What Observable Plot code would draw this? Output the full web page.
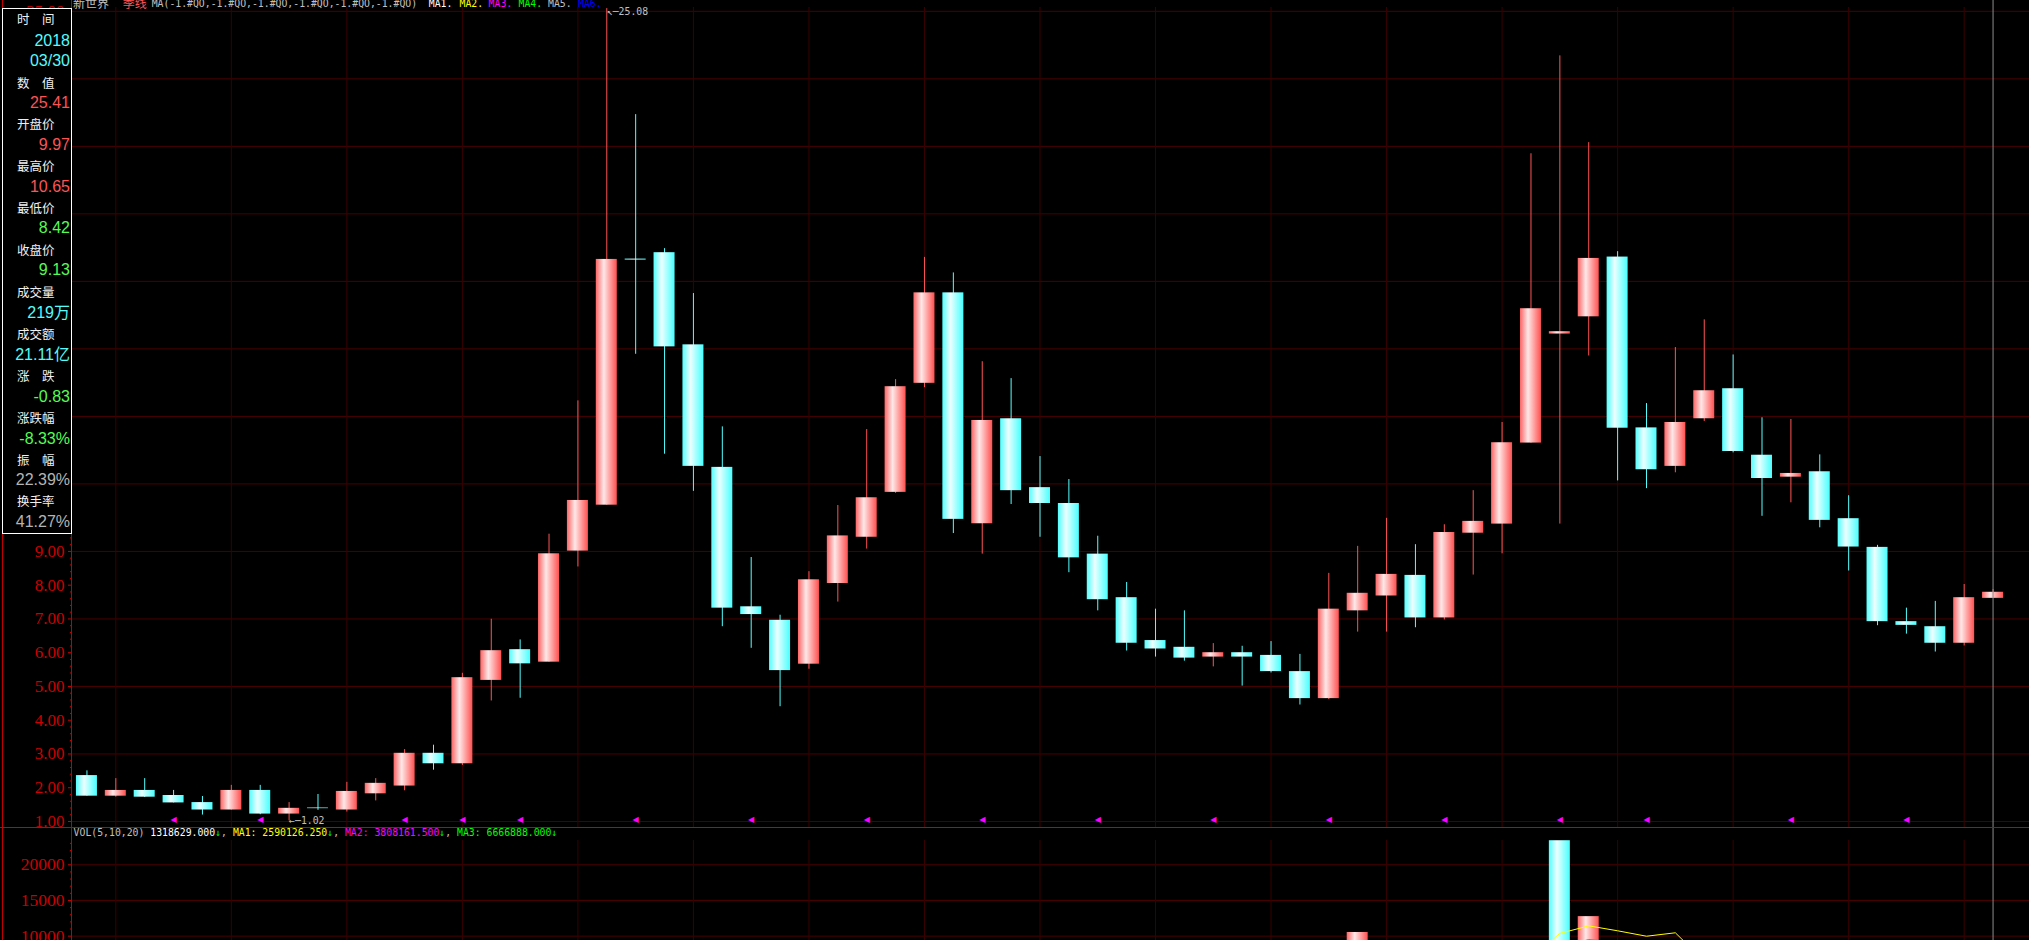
<!DOCTYPE html>
<html><head><meta charset="utf-8">
<script src="https://cdn.jsdelivr.net/npm/d3@7"></script>
<script src="https://cdn.jsdelivr.net/npm/@observablehq/plot@0.6"></script>
<style>
html,body{margin:0;padding:0;background:#000;overflow:hidden;}
#root{position:relative;width:2029px;height:940px;overflow:hidden;background:#000;}
.abs{position:absolute;white-space:pre;}
.lbl{position:absolute;left:17px;font:12.5px/18px "Noto Sans CJK SC",sans-serif;color:#f0f0f0;white-space:pre;}
.val{position:absolute;left:0;width:70px;text-align:right;font:16px/18px "Liberation Sans","Noto Sans CJK SC",sans-serif;white-space:pre;}
.mono{font-family:"DejaVu Sans Mono",monospace;font-size:9.8px;line-height:12px;}
</style></head><body>
<svg width="0" height="0" style="position:absolute">
  <defs>
    <linearGradient id="gUp" x1="0" x2="1" y1="0" y2="0">
      <stop offset="0" stop-color="#ff6464"/>
      <stop offset="0.38" stop-color="#ffe8e8"/>
      <stop offset="1" stop-color="#ff5050"/>
    </linearGradient>
    <linearGradient id="gDn" x1="0" x2="1" y1="0" y2="0">
      <stop offset="0" stop-color="#50ffff"/>
      <stop offset="0.38" stop-color="#ecffff"/>
      <stop offset="1" stop-color="#48ffff"/>
    </linearGradient>
  </defs>
</svg>
<div id="root"></div>
<script>
// ---------- data (quarterly candles) ----------
const open  = [2.36,1.75,1.92,1.77,1.56,1.34,1.92,1.22,1.40,1.34,1.82,2.05,3.02,2.71,5.18,6.09,5.72,9.01,10.37,17.66,
               17.85,15.12,11.49,7.36,6.96,5.66,8.05,9.42,10.75,13.98,16.66,9.82,12.93,10.89,10.42,8.92,7.63,6.36,6.16,5.87,
               6.00,5.92,5.44,4.64,7.24,7.68,8.29,7.03,9.54,9.81,12.21,15.44,15.95,17.72,12.66,11.52,12.93,13.82,11.85,11.20,
               11.36,9.97,9.12,6.92,6.77,6.28,7.61];
const high  = [2.50,2.27,2.27,1.92,1.74,2.07,2.07,1.56,1.80,2.16,2.27,3.13,3.26,5.39,6.99,6.38,9.51,13.46,25.08,21.94,
               17.97,16.64,12.69,8.82,7.11,8.40,10.36,12.61,14.09,17.71,17.25,14.62,14.12,11.81,11.13,9.45,8.08,7.29,7.24,6.27,
               6.19,6.33,5.95,8.35,9.15,9.98,9.20,9.79,10.80,12.82,20.78,23.68,21.11,17.88,13.38,15.04,15.86,14.82,12.96,12.91,
               11.86,10.65,9.18,7.32,7.52,8.02,7.87];
const low   = [1.75,1.72,1.71,1.55,1.19,1.34,1.20,1.02,1.33,1.28,1.61,1.91,2.52,2.66,4.57,4.65,5.72,8.54,10.37,14.84,
               11.88,10.78,6.77,6.13,4.40,5.51,7.50,9.07,10.72,13.85,9.53,8.92,10.39,9.42,8.37,7.24,6.05,5.87,5.75,5.58,
               5.01,5.40,4.45,4.61,6.61,6.61,6.74,6.97,8.30,8.93,12.21,9.81,14.79,11.09,10.86,11.33,12.85,11.92,10.04,10.44,
               9.70,8.42,6.80,6.55,6.02,6.20,7.61];
const close = [1.75,1.92,1.72,1.55,1.34,1.92,1.22,1.39,1.38,1.89,2.13,3.02,2.71,5.26,6.06,5.67,8.93,10.51,17.65,17.63,
               15.06,11.52,7.32,7.13,5.47,8.16,9.46,10.59,13.88,16.66,9.95,12.88,10.80,10.42,8.81,7.57,6.28,6.11,5.84,6.00,
               5.87,5.44,4.64,7.29,7.76,8.32,7.03,9.56,9.89,12.22,16.19,15.51,17.68,12.65,11.42,12.82,13.76,11.96,11.16,11.31,
               9.92,9.13,6.92,6.81,6.28,7.63,7.79];
const volume = [3200,1800,1500,1400,1900,2600,2800,2100,1700,2400,2900,4200,3600,6800,7400,5200,8600,8200,9000,8800,
                7900,6900,6100,4200,4800,5600,5900,6400,7800,8400,8900,7100,6200,4600,4100,4300,3800,2900,2600,2200,
                2400,2800,4000,7200,10514,6300,6350,7436,7200,7000,6889,23375,12736,3750,3190,9300,3450,4100,3600,3300,
                2900,3400,2800,3900,2100,2600,1900];
const yearStartIdx = [1,5,9,13,17,21,25,29,33,37,41,45,49,53,57,61,65];
const markerIdx = [3,6,11,13,15,19,23,27,31,35,39,43,47,51,54,59,63];
const cursorIdx = 66;
const priceTicks = [1,2,3,4,5,6,7,8,9,25];
const priceGrid = [1,3,5,7,9,11,13,15,17,19,21,23,25];
const priceMinor = d3.range(1, 25.001, 0.2).filter(v => Math.abs(v - Math.round(v)) > 0.01);
const volTicks = [10000,15000,20000];
const volGrid = [10000,15000,20000];
const volMinor = d3.range(10000, 23001, 1000).filter(v => v % 5000 !== 0);

const infoLabels = ["时　间","数　值","开盘价","最高价","最低价","收盘价","成交量","成交额","涨　跌","涨跌幅","振　幅","换手率"];
const infoValues = ["2018","03/30","25.41","9.97","10.65","8.42","9.13","219万","21.11亿","-0.83","-8.33%","22.39%","41.27%"];
const infoValueKinds = ["c","c","r","r","r","g","g","c","c","g","g","w","w"];

// ---------- build ----------
const RED = "#ff5454", CYAN = "#54ffff", AXIS = "#cc0000";
const n = open.length;
const candles = d3.range(n).map(i => ({i, o: open[i], h: high[i], l: low[i], c: close[i], v: volume[i],
  volUp: i === 0 ? close[i] >= open[i] : close[i] >= close[i - 1]}));
const up = candles.filter(d => d.c >= d.o), dn = candles.filter(d => d.c < d.o);
const vUp = candles.filter(d => d.volUp), vDn = candles.filter(d => !d.volUp);

const W = 2029;
const xScale = {type: "band", domain: d3.range(n), paddingInner: 0.273, paddingOuter: 0.1365, round: false, axis: null};
const fmt2 = d3.format(".2f");
const hiI = d3.maxIndex(high), loI = d3.minIndex(low);

const price = Plot.plot({
  width: W, height: 827, marginLeft: 72, marginRight: 22, marginTop: 7, marginBottom: 0,
  style: {background: "transparent", overflow: "visible"},
  x: xScale,
  y: {domain: [0.822, 25.113], axis: null},
  marks: [
    Plot.ruleY(priceGrid, {stroke: "#4a0000", insetRight: -22}),
    Plot.ruleX(yearStartIdx, {stroke: "#3a0000"}),
    Plot.axisY({ticks: priceMinor, tickSize: 2, tickFormat: () => "", color: AXIS, label: null}),
    Plot.axisY({ticks: priceTicks, tickFormat: fmt2, tickSize: 4, tickPadding: 4, color: AXIS,
      fontSize: 17, fontFamily: "Liberation Serif", label: null}),
    Plot.ruleX(up, {x: "i", y1: "l", y2: "h", stroke: RED}),
    Plot.ruleX(dn, {x: "i", y1: "l", y2: "h", stroke: CYAN}),
    Plot.barY(up, {x: "i", y1: "o", y2: "c", fill: "url(#gUp)"}),
    Plot.barY(dn, {x: "i", y1: "o", y2: "c", fill: "url(#gDn)"}),
    Plot.text(markerIdx, {x: d => d, text: () => "◀", frameAnchor: "bottom", dy: -5.5,
      fill: "#ff00ff", fontSize: 8, fontFamily: "DejaVu Sans"}),
    Plot.text([{i: hiI, y: high[hiI]}], {x: "i", y: "y", text: d => "↖─" + fmt2(d.y), textAnchor: "start",
      dy: 3.5, fill: "#c0c0c0", fontSize: 9.8, fontFamily: "DejaVu Sans Mono"}),
    Plot.text([{i: loI, y: low[loI]}], {x: "i", y: "y", text: d => "←─" + fmt2(d.y), textAnchor: "start",
      dy: 0, fill: "#c0c0c0", fontSize: 9.8, fontFamily: "DejaVu Sans Mono"}),
    Plot.ruleX([cursorIdx], {stroke: "#8c8c8c", insetTop: -7})
  ]
});

const volp = Plot.plot({
  width: W, height: 180, marginLeft: 72, marginRight: 22, marginTop: 13, marginBottom: 0,
  style: {background: "transparent", overflow: "visible"},
  x: xScale,
  y: {domain: [0, 23405], axis: null},
  marks: [
    Plot.ruleY(volGrid, {stroke: "#4a0000", insetRight: -22}),
    Plot.ruleX(yearStartIdx, {stroke: "#3a0000"}),
    Plot.axisY({ticks: volMinor, tickSize: 2, tickFormat: () => "", color: AXIS, label: null}),
    Plot.axisY({ticks: volTicks, tickFormat: d => String(d), tickSize: 4, tickPadding: 4, color: AXIS,
      fontSize: 17.5, fontFamily: "Liberation Serif", label: null}),
    Plot.barY(vUp, {x: "i", y: "v", fill: "url(#gUp)"}),
    Plot.barY(vDn, {x: "i", y: "v", fill: "url(#gDn)"}),
    Plot.lineY(candles, Plot.windowY({k: 20, anchor: "end"}, {x: "i", y: "v", stroke: "#00ff00", strokeWidth: 1})),
    Plot.lineY(candles, Plot.windowY({k: 10, anchor: "end"}, {x: "i", y: "v", stroke: "#ff00ff", strokeWidth: 1})),
    Plot.lineY(candles, Plot.windowY({k: 5, anchor: "end"}, {x: "i", y: "v", stroke: "#ffff00", strokeWidth: 1})),
    Plot.ruleX([cursorIdx], {stroke: "#8c8c8c", insetTop: -13})
  ]
});

const root = document.getElementById("root");
function place(node, left, top) {
  const wrap = document.createElement("div");
  wrap.className = "abs"; wrap.style.left = left + "px"; wrap.style.top = top + "px";
  wrap.appendChild(node); root.appendChild(wrap); return wrap;
}
place(price, 0, 0);
place(volp, 0, 827);

function line(l, t, w, h, c) {
  const d = document.createElement("div");
  d.className = "abs";
  Object.assign(d.style, {left: l + "px", top: t + "px", width: w + "px", height: h + "px", background: c});
  root.appendChild(d);
}
line(71, 0, 1, 940, "#c00000");   // axis line
line(2, 0, 1, 940, "#c00000");    // left border
line(0, 827, 2029, 1, "#d00000"); // panel separator

// header
function span(text, left, top, color, cls, size) {
  const s = document.createElement("div");
  s.className = "abs " + (cls || "");
  s.textContent = text;
  s.style.left = left + "px"; s.style.top = top + "px"; s.style.color = color;
  if (size) s.style.font = size;
  root.appendChild(s); return s;
}
span("新世界", 73, -3.5, "#c0c0c0", "", '12px/12px "Noto Sans CJK SC"');
span("季线", 122.7, -3.5, "#ff5454", "", '12px/12px "Noto Sans CJK SC"');
span("MA(-1.#QO,-1.#QO,-1.#QO,-1.#QO,-1.#QO,-1.#QO)", 151.7, -2.5, "#c0c0c0", "mono");
const maNames = ["MA1.","MA2.","MA3.","MA4.","MA5.","MA6."];
const maColors = ["#ffffff","#ffff00","#ff00ff","#00ff00","#c0c0c0","#0000ff"];
const maX = [428.8,459.5,488.6,518.5,548,578];
maNames.forEach((t, k) => span(t, maX[k], -2.5, maColors[k], "mono"));

// volume legend
const leg = document.createElement("div");
leg.className = "abs mono";
leg.style.left = "73.6px"; leg.style.top = "827px";
const legParts = [["VOL(5,10,20) ","#c0c0c0"],["1318629.000","#ffffff"],["↓","#00ff00"],[", ","#c0c0c0"],
  ["MA1: 2590126.250","#ffff00"],["↓","#00ff00"],[", ","#c0c0c0"],["MA2: 3808161.500","#ff00ff"],["↓","#00ff00"],
  [", ","#c0c0c0"],["MA3: 6666888.000","#00ff00"],["↓","#00ff00"]];
legParts.forEach(([t, c]) => { const s = document.createElement("span"); s.textContent = t; s.style.color = c; leg.appendChild(s); });
root.appendChild(leg);

// info box
const box = document.createElement("div");
box.className = "abs";
Object.assign(box.style, {left: "2px", top: "8px", width: "70px", height: "526px", boxSizing: "border-box",
  border: "1px solid #ffffff", background: "#000"});
root.appendChild(box);
const labelY = [19,82.6,124,166.3,208.3,249.7,291.7,333.7,376.4,417.7,460,501.4];
const valueY = [40.6,61.3,103.3,144.6,187,228,270,312.7,354.7,397,438.7,480.4,522];
const kindColor = {c: "#54fcfc", r: "#fc5454", g: "#54fc54", w: "#b4b4b4"};
infoLabels.forEach((t, k) => {
  const d = document.createElement("div"); d.className = "lbl"; d.textContent = t;
  d.style.top = (labelY[k] - 9) + "px"; root.appendChild(d);
});
infoValues.forEach((t, k) => {
  const d = document.createElement("div"); d.className = "val"; d.textContent = t;
  d.style.top = (valueY[k] - 9) + "px"; d.style.color = kindColor[infoValueKinds[k]]; root.appendChild(d);
});
</script>
</body></html>
